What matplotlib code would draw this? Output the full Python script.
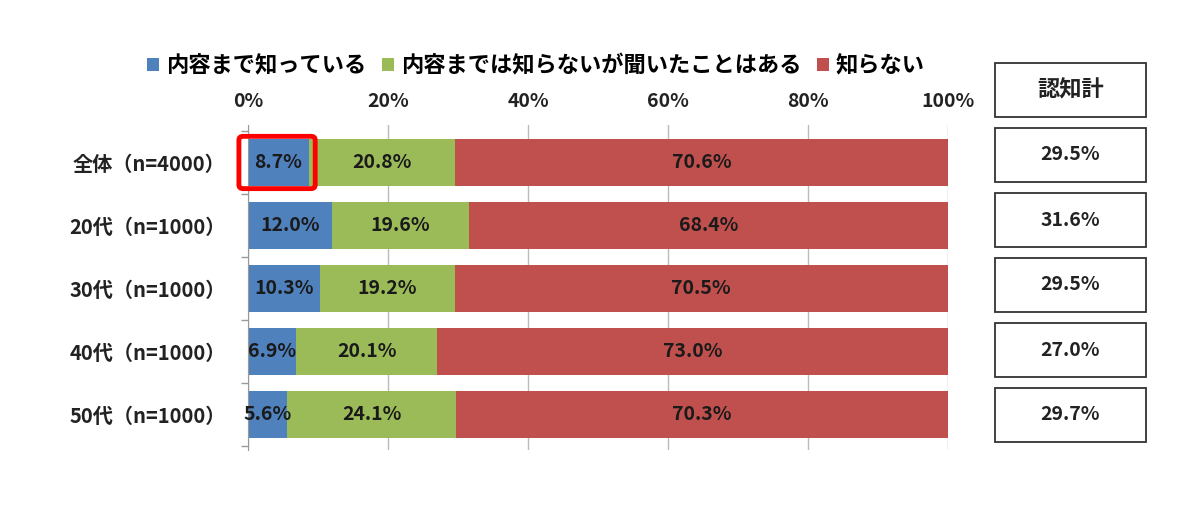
import matplotlib
matplotlib.use("Agg")
import matplotlib.pyplot as plt
from matplotlib.patches import Rectangle, FancyBboxPatch, Patch
import numpy as np

plt.rcParams['font.family'] = ['Noto Sans CJK JP', 'DejaVu Sans']

categories = ["全体（n=4000）", "20代（n=1000）", "30代（n=1000）", "40代（n=1000）", "50代（n=1000）"]
series_names = ["内容まで知っている", "内容までは知らないが聞いたことはある", "知らない"]
know_content = [8.7, 12.0, 10.3, 6.9, 5.6]
heard_only = [20.8, 19.6, 19.2, 20.1, 24.1]
not_known = [70.6, 68.4, 70.5, 73.0, 70.3]
awareness_total = ["29.5%", "31.6%", "29.5%", "27.0%", "29.7%"]
total_header = "認知計"
x_ticks = [0, 20, 40, 60, 80, 100]
x_tick_labels = ["0%", "20%", "40%", "60%", "80%", "100%"]

colors = ["#4F81BD", "#9BBB59", "#C0504D"]

fig = plt.figure(figsize=(12, 5.14), dpi=100)
ax = fig.add_axes([248/1200, 1-450/514, 700/1200, 325/514])

y = np.arange(len(categories))
series = [know_content, heard_only, not_known]
left = np.zeros(len(categories))
for vals, col, name in zip(series, colors, series_names):
    vals = np.array(vals)
    ax.barh(y, vals, left=left, height=0.74, color=col, label=name, zorder=2)
    for yi, (l, v) in enumerate(zip(left, vals)):
        ax.text(l + v/2, yi, f"{v:.1f}%", ha='center', va='center',
                fontsize=14, fontweight='bold', color='#1a1a1a', zorder=4)
    left = left + vals

ax.set_xlim(0, 100)
ax.set_ylim(len(categories) - 1 + 0.56, -0.6)
ax.xaxis.tick_top()
ax.set_xticks(x_ticks)
ax.set_xticklabels(x_tick_labels, fontsize=14, fontweight='bold', color='#222222')
ax.tick_params(axis='x', length=0, pad=10)
ax.set_yticks(y)
ax.set_yticklabels(categories, fontsize=14.5, fontweight='bold', color='#222222')
ax.tick_params(axis='y', which='major', length=0, pad=16)
ax.set_yticks(np.arange(-0.5, len(categories) + 0.5, 1), minor=True)
ax.tick_params(axis='y', which='minor', length=5, color='#999999', width=1)
ax.grid(axis='x', color='#BBBBBB', linewidth=1, zorder=0)
for s in ['top', 'right', 'bottom']:
    ax.spines[s].set_visible(False)
ax.spines['left'].set_color('#999999')
ax.spines['left'].set_zorder(3)

# highlight box around first segment of first row
hl = FancyBboxPatch((-1.3, -0.42), know_content[0] + 2.2, 0.83,
                    boxstyle="round,pad=0.0,rounding_size=0.6",
                    fill=False, edgecolor='#FF0000', linewidth=3.5,
                    clip_on=False, zorder=5, mutation_aspect=0.1)
ax.add_patch(hl)

# legend
handles = [Patch(facecolor=c, edgecolor='none') for c in colors]
fig.legend(handles, series_names, loc='center', bbox_to_anchor=(536/1200, 1-66/514),
           ncol=3, frameon=False, handlelength=0.55, handleheight=0.55,
           handletextpad=0.3, columnspacing=0.7,
           prop={'weight': 'bold', 'size': 16})

# right table boxes
bx0, bx1 = 995/1200, 1146/1200
box_h = 54/514
tops = [63, 128, 193, 258, 323, 388]
texts = [total_header] + awareness_total
for i, (t, txt) in enumerate(zip(tops, texts)):
    yb = 1 - (t + 54)/514
    fig.patches.append(Rectangle((bx0, yb), bx1 - bx0, box_h, transform=fig.transFigure,
                                 fill=False, edgecolor='#333333', linewidth=1.3))
    fig.text((bx0 + bx1)/2, yb + box_h/2, txt, ha='center', va='center',
             fontsize=16 if i == 0 else 14, fontweight='bold', color='#222222')

fig.savefig("out.png", dpi=100, facecolor='white')
